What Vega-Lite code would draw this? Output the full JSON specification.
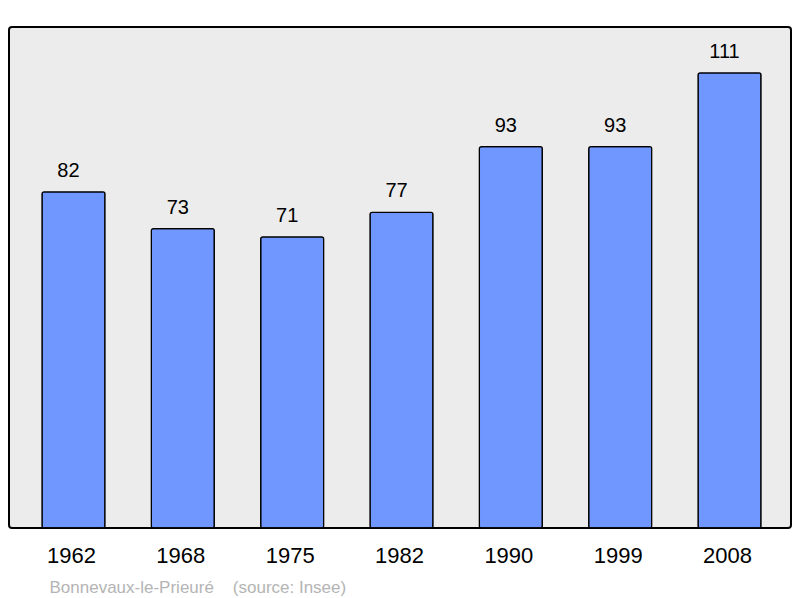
{
  "$schema": "https://vega.github.io/schema/vega-lite/v6.json",
  "width": 782,
  "height": 501,
  "autosize": {"type": "none"},
  "padding": {"left": 9, "top": 27, "right": 9, "bottom": 70},
  "background": "white",
  "config": {
    "view": {"fill": "#ececec", "stroke": "black", "strokeWidth": 2, "cornerRadius": 3},
    "font": "Liberation Sans"
  },
  "data": {
    "values": [
      {"year": "1962", "pop": 82},
      {"year": "1968", "pop": 73},
      {"year": "1975", "pop": 71},
      {"year": "1982", "pop": 77},
      {"year": "1990", "pop": 93},
      {"year": "1999", "pop": 93},
      {"year": "2008", "pop": 111}
    ]
  },
  "encoding": {
    "x": {
      "field": "year",
      "type": "ordinal",
      "sort": null,
      "scale": {"paddingInner": 0.424, "paddingOuter": 0.288, "align": 0.524},
      "axis": {
        "domain": false,
        "ticks": false,
        "labelAngle": 0,
        "labelFontSize": 22,
        "labelColor": "black",
        "labelPadding": 17,
        "labelOffset": -2,
        "title": "Bonnevaux-le-Prieuré\u00a0\u00a0\u00a0\u00a0(source: Insee)",
        "titleFontSize": 17,
        "titleFontWeight": "normal",
        "titleColor": "#b4b4b4",
        "titleAlign": "left",
        "titleAnchor": "start",
        "titleBaseline": "alphabetic",
        "titleX": 40,
        "titleY": 64
      }
    },
    "y": {
      "field": "pop",
      "type": "quantitative",
      "scale": {"domain": [0, 122.2], "nice": false},
      "axis": null
    }
  },
  "layer": [
    {
      "mark": {"type": "bar", "color": "#7097ff", "stroke": "black", "strokeWidth": 1.3, "cornerRadius": 2}
    },
    {
      "mark": {"type": "text", "fontSize": 20, "color": "black", "baseline": "alphabetic", "dy": -15, "dx": -5},
      "encoding": {"text": {"field": "pop", "type": "quantitative"}}
    }
  ]
}
